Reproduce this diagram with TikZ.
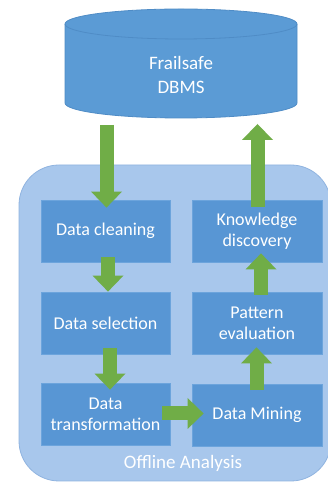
\documentclass[tikz,border=0pt]{standalone}
\usepackage{fontspec}
\setmainfont{Carlito}
\usetikzlibrary{arrows.meta,calc}
\definecolor{dbblue}{HTML}{5B9BD5}
\definecolor{dbline}{HTML}{4F8CC6}
\definecolor{boxblue}{HTML}{5896D4}
\definecolor{boxline}{HTML}{6CA4DC}
\definecolor{outerfill}{HTML}{A8C7EC}
\definecolor{outerline}{HTML}{90B4E0}
\definecolor{arrgreen}{HTML}{70AD47}
\tikzset{
  stagebox/.style={fill=boxblue, draw=boxline, line width=0.8pt, minimum width=129pt, minimum height=62pt,
    align=center, text=white, font=\fontsize{18}{21}\selectfont, inner sep=0pt},
  garrow/.style={line width=14pt, arrgreen, -{Triangle[width=31pt,length=16pt,line width=0pt]}},
}
\begin{document}
\begin{tikzpicture}[x=1pt,y=1pt]
\useasboundingbox (0,0) rectangle (328,482);
\fill[white] (0,0) rectangle (328,482);
% outer container
\draw[fill=outerfill, draw=outerline, line width=0.8pt, rounded corners=40pt] (19,1) rectangle (331,317);
\node[text=white, font=\fontsize{19}{22}\selectfont] (offline) at (183,19) {Offline Analysis};
% database cylinder
\draw[fill=dbblue, draw=dbline, line width=0.8pt]
  (65,458) -- (65,379) arc[start angle=180, end angle=360, x radius=116, y radius=15]
  -- (297,458) arc[start angle=0, end angle=180, x radius=116, y radius=15] -- cycle;
\draw[dbline, line width=0.8pt] (297,458) arc[start angle=360, end angle=180, x radius=116, y radius=15];
\node[align=center, text=white, font=\fontsize{19}{24}\selectfont] (db) at (181,407) {Frailsafe\\DBMS};
\coordinate (dbbase) at (181,364);
% stages
\node[stagebox] (clean) at (105.5,251) {Data cleaning};
\node[stagebox] (select) at (105.5,158.5) {Data selection};
\node[stagebox] (trans) at (105.5,68) {Data\\transformation};
\node[stagebox, minimum width=130pt] (know) at (257,251) {Knowledge\\discovery};
\node[stagebox, minimum width=130pt] (pattern) at (257,158.5) {Pattern\\evaluation};
\node[stagebox, minimum width=130pt] (mining) at (257,67) {Data Mining};
% arrows
\draw[garrow] ($(clean.north |- dbbase)+(1,-7)$) -- ($(clean.north)+(1,-8)$);
\draw[garrow] ($(know.north)+(0.5,-7)$) -- ($(know.north |- dbbase)+(0.5,-6)$);
\draw[garrow] ($(clean.south)+(2.5,5)$) -- ($(select.north)+(2.5,0.5)$);
\draw[garrow] ($(select.south)+(4.5,6.5)$) -- ($(trans.north)+(4.5,-7)$);
\draw[garrow] ($(trans.east)+(-8,0.5)$) -- ($(mining.west |- trans.east)+(12,0.5)$);
\draw[garrow] ($(mining.north)+(-0.5,-6)$) -- ($(pattern.south)+(-0.5,7.5)$);
\draw[garrow] ($(pattern.north)+(4,-2.5)$) -- ($(know.south)+(4,9)$);
\end{tikzpicture}
\end{document}
